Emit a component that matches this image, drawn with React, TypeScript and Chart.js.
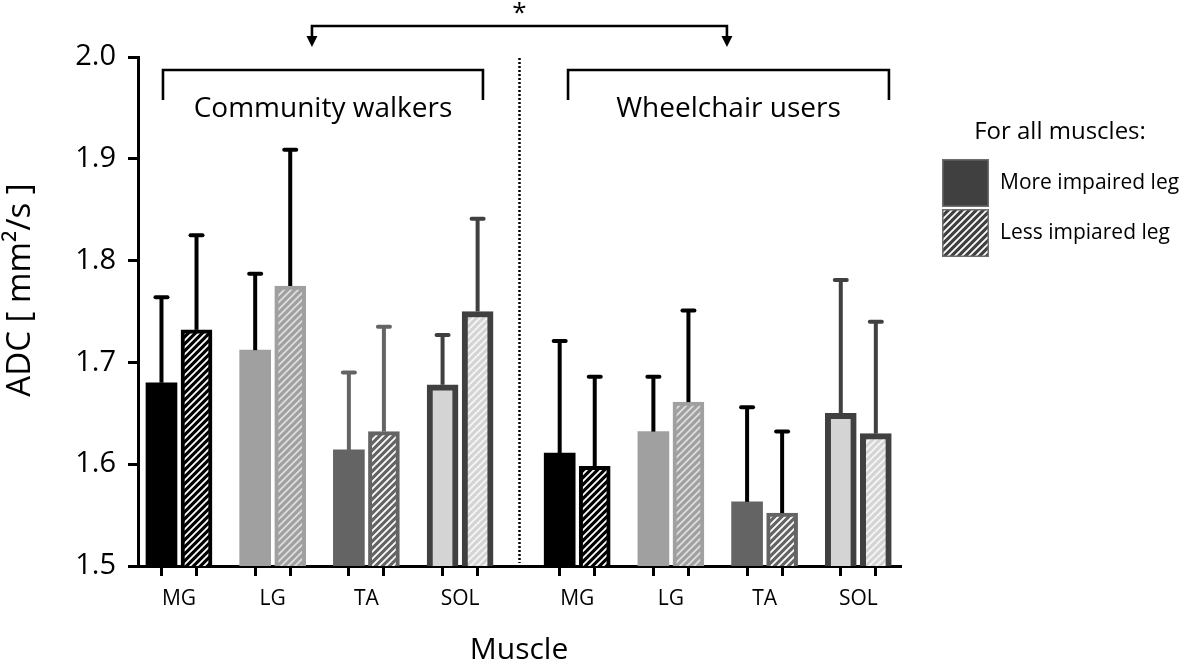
import React, { useEffect, useRef } from 'react';
import { Chart, registerables } from 'chart.js';

Chart.register(...registerables);

// ---------- data ----------
const muscles = ['MG', 'LG', 'TA', 'SOL'];
const groupNames = ['Community walkers', 'Wheelchair users'];
const seriesNames = ['More impaired leg', 'Less impiared leg'];
const legendTitle = 'For all muscles:';
const yTitle = 'ADC [ mm²/s ]';
const xTitle = 'Muscle';
const yTickValues = [1.5, 1.6, 1.7, 1.8, 1.9, 2.0];

// order: Community walkers MG LG TA SOL, Wheelchair users MG LG TA SOL
const moreMean = [1.68, 1.712, 1.614, 1.678, 1.611, 1.632, 1.563, 1.65];
const moreSD = [0.084, 0.075, 0.076, 0.049, 0.11, 0.054, 0.093, 0.131];
const lessMean = [1.732, 1.775, 1.632, 1.75, 1.598, 1.661, 1.552, 1.63];
const lessSD = [0.093, 0.134, 0.103, 0.091, 0.088, 0.09, 0.08, 0.11];

// ---------- layout / style constants ----------
const PANEL_GAP = 1.25;
const PAIR_OFFSET = 0.187;
const groupPos = [0, 1, 2, 3, 3 + PANEL_GAP, 4 + PANEL_GAP, 5 + PANEL_GAP, 6 + PANEL_GAP];
const morePos = groupPos.map((p) => p - PAIR_OFFSET);
const lessPos = groupPos.map((p) => p + PAIR_OFFSET);
const X_MIN = -0.4376;
const X_MAX = 7.695;
const dividerPos = (3 + 3 + PANEL_GAP) / 2;
const brackets = [
  { from: -0.171, to: 3.244 },
  { from: 4.152, to: 7.577 },
];
const arrowPos = [1.419, 5.848];

const muscleFill = ['#000000', '#a0a0a0', '#646464', '#d4d4d4'];
const muscleBorder = ['#000000', '#a0a0a0', '#646464', '#404040'];
const hatchLine = ['#ffffff', '#dedede', '#ffffff', '#f6f6f6'];
const moreBorderW = [0, 0, 0, 6];
const lessBorderW = [4, 4, 4, 6];
const errColor = ['#000', '#000', '#646464', '#404040', '#000', '#000', '#000', '#404040'];

const FONT = "'Open Sans', 'Noto Sans', sans-serif";
const W = '500';

function makeHatch(bg: string, line: string): CanvasPattern {
  const s = 7;
  const c = document.createElement('canvas');
  c.width = s;
  c.height = s;
  const g = c.getContext('2d')!;
  g.fillStyle = bg;
  g.fillRect(0, 0, s, s);
  g.strokeStyle = line;
  g.lineWidth = 1.8;
  g.beginPath();
  g.moveTo(-1, s + 1);
  g.lineTo(s + 1, -1);
  g.moveTo(-s / 2 - 1, s / 2 + 1);
  g.lineTo(s / 2 + 1, -s / 2 - 1);
  g.moveTo(s / 2 - 1, s * 1.5 + 1);
  g.lineTo(s * 1.5 + 1, s / 2 - 1);
  g.stroke();
  return g.createPattern(c, 'repeat')!;
}

const errorBarPlugin = {
  id: 'errorBars',
  afterDatasetsDraw(chart: any) {
    const ctx = chart.ctx as CanvasRenderingContext2D;
    const ys = chart.scales.y;
    const sds = [moreSD, lessSD];
    const means = [moreMean, lessMean];
    ctx.save();
    chart.data.datasets.forEach((_: any, di: number) => {
      const meta = chart.getDatasetMeta(di);
      meta.data.forEach((el: any, i: number) => {
        const yTop = ys.getPixelForValue(means[di][i] + sds[di][i]);
        ctx.strokeStyle = errColor[i];
        ctx.lineWidth = 4;
        ctx.lineCap = 'butt';
        ctx.beginPath();
        ctx.moveTo(el.x, el.y);
        ctx.lineTo(el.x, yTop);
        ctx.stroke();
        ctx.lineCap = 'round';
        ctx.beginPath();
        ctx.moveTo(el.x - 6, yTop);
        ctx.lineTo(el.x + 6, yTop);
        ctx.stroke();
      });
    });
    ctx.restore();
  },
};

const annotationPlugin = {
  id: 'annotations',
  afterDraw(chart: any) {
    const ctx = chart.ctx as CanvasRenderingContext2D;
    const xs = chart.scales.x;
    const { top, bottom } = chart.chartArea;
    ctx.save();
    ctx.fillStyle = '#000';
    ctx.strokeStyle = '#000';

    // dotted divider
    const xd = Math.round(xs.getPixelForValue(dividerPos)) + 0.5;
    ctx.lineWidth = 2.5;
    ctx.setLineDash([2, 2]);
    ctx.beginPath();
    ctx.moveTo(xd, top + 1);
    ctx.lineTo(xd, bottom - 3);
    ctx.stroke();
    ctx.setLineDash([]);

    // group brackets + labels
    ctx.lineWidth = 2.6;
    ctx.font = `${W} 28px ${FONT}`;
    ctx.textAlign = 'center';
    ctx.textBaseline = 'alphabetic';
    brackets.forEach((b, i) => {
      const x1 = xs.getPixelForValue(b.from);
      const x2 = xs.getPixelForValue(b.to);
      ctx.beginPath();
      ctx.moveTo(x1, top + 43);
      ctx.lineTo(x1, top + 13);
      ctx.lineTo(x2, top + 13);
      ctx.lineTo(x2, top + 43);
      ctx.stroke();
      ctx.fillText(groupNames[i], (x1 + x2) / 2, top + 60);
    });

    // significance arrow
    const a1 = xs.getPixelForValue(arrowPos[0]);
    const a2 = xs.getPixelForValue(arrowPos[1]);
    const yl = top - 31;
    ctx.lineWidth = 2.6;
    ctx.beginPath();
    ctx.moveTo(a1, yl + 12);
    ctx.lineTo(a1, yl);
    ctx.lineTo(a2, yl);
    ctx.lineTo(a2, yl + 12);
    ctx.stroke();
    [a1, a2].forEach((ax) => {
      ctx.beginPath();
      ctx.moveTo(ax - 5.5, yl + 10);
      ctx.lineTo(ax + 5.5, yl + 10);
      ctx.lineTo(ax, yl + 21);
      ctx.closePath();
      ctx.fill();
    });
    ctx.font = `${W} 26px ${FONT}`;
    ctx.fillText('*', (a1 + a2) / 2, yl - 5);

    // y axis title
    ctx.save();
    ctx.translate(21, 290);
    ctx.rotate(-Math.PI / 2);
    ctx.font = `${W} 33px ${FONT}`;
    ctx.textAlign = 'center';
    ctx.textBaseline = 'middle';
    ctx.fillText(yTitle, 0, 0);
    ctx.restore();

    // legend
    const lx = 942;
    const boxW = 47;
    const boxH = 48;
    const boxTops = [159, 209];
    ctx.font = `${W} 24px ${FONT}`;
    ctx.textAlign = 'center';
    ctx.textBaseline = 'alphabetic';
    ctx.fillText(legendTitle, 1060, 139);
    const fills: (string | CanvasPattern)[] = ['#404040', makeHatch('#404040', '#ffffff')];
    ctx.font = `${W} 21px ${FONT}`;
    ctx.textAlign = 'left';
    ctx.textBaseline = 'middle';
    boxTops.forEach((by, i) => {
      ctx.fillStyle = fills[i];
      ctx.fillRect(lx, by, boxW, boxH);
      ctx.strokeStyle = '#6e6e6e';
      ctx.lineWidth = 1.5;
      ctx.strokeRect(lx + 0.75, by + 0.75, boxW - 1.5, boxH - 1.5);
      ctx.fillStyle = '#000';
      ctx.fillText(seriesNames[i], 1000, by + boxH / 2);
    });
    ctx.restore();
  },
};

export default function App() {
  const ref = useRef<HTMLCanvasElement | null>(null);

  useEffect(() => {
    if (!ref.current) return;
    Chart.defaults.font.family = FONT;
    Chart.defaults.font.weight = W as any;
    Chart.defaults.color = '#000';

    const moreFill = groupPos.map((_, i) => muscleFill[i % 4]);
    const moreBorder = groupPos.map((_, i) => muscleBorder[i % 4]);
    const moreBW = groupPos.map((_, i) => moreBorderW[i % 4]);
    const lessFill = groupPos.map((_, i) => makeHatch(muscleFill[i % 4], hatchLine[i % 4]));
    const lessBorder = groupPos.map((_, i) => muscleBorder[i % 4]);
    const lessBW = groupPos.map((_, i) => lessBorderW[i % 4]);

    const chart = new Chart(ref.current, {
      type: 'bar',
      data: {
        datasets: [
          {
            label: seriesNames[0],
            data: moreMean.map((v, i) => ({ x: morePos[i], y: v })),
            backgroundColor: moreFill,
            borderColor: moreBorder,
            borderWidth: moreBW,
            borderSkipped: 'start',
            barThickness: 31,
            grouped: false,
          } as any,
          {
            label: seriesNames[1],
            data: lessMean.map((v, i) => ({ x: lessPos[i], y: v })),
            backgroundColor: lessFill,
            borderColor: lessBorder,
            borderWidth: lessBW,
            borderSkipped: 'start',
            barThickness: 31,
            grouped: false,
          } as any,
        ],
      },
      options: {
        responsive: false,
        animation: false,
        devicePixelRatio: 1,
        layout: { padding: { top: 57, right: 281, bottom: 0, left: 0 } },
        plugins: {
          legend: { display: false },
          tooltip: { enabled: false },
        },
        scales: {
          x: {
            type: 'linear',
            position: 'bottom',
            offset: false,
            min: X_MIN,
            max: X_MAX,
            afterBuildTicks: (s: any) => {
              s.ticks = [...morePos, ...lessPos].sort((a, b) => a - b).map((v) => ({ value: v }));
            },
            ticks: { display: false, autoSkip: false },
            grid: { offset: false, drawOnChartArea: false, drawTicks: true, tickLength: 10, lineWidth: 3, color: '#000' },
            border: { display: true, width: 3, color: '#000' },
            afterFit: (s: any) => {
              s.height = 10;
            },
          },
          x2: {
            type: 'linear',
            position: 'bottom',
            offset: false,
            min: X_MIN,
            max: X_MAX,
            afterBuildTicks: (s: any) => {
              s.ticks = groupPos.map((v) => ({ value: v }));
            },
            ticks: {
              autoSkip: false,
              maxRotation: 0,
              padding: 10,
              font: { size: 21, weight: W },
              color: '#000',
              callback: (_v: any, i: number) => muscles[i % 4],
            },
            grid: { display: false, drawTicks: false, offset: false },
            border: { display: false },
            title: {
              display: true,
              text: xTitle,
              font: { size: 30, lineHeight: 0.8, weight: W },
              color: '#000',
              padding: 0,
            },
            afterFit: (s: any) => {
              s.height = 86;
            },
          },
          y: {
            type: 'linear',
            min: 1.5,
            max: 2.0,
            afterBuildTicks: (s: any) => {
              s.ticks = yTickValues.map((v) => ({ value: v }));
            },
            ticks: {
              font: { size: 29, weight: W },
              color: '#000',
              padding: 12,
              callback: (v: any) => Number(v).toFixed(1),
            },
            grid: { drawOnChartArea: false, drawTicks: true, tickLength: 10, lineWidth: 3, color: '#000' },
            border: { display: true, width: 3, color: '#000' },
            afterFit: (s: any) => {
              s.width = 138;
            },
          },
        },
      } as any,
      plugins: [errorBarPlugin, annotationPlugin],
    });
    return () => chart.destroy();
  }, []);

  return (
    <div style={{ position: 'fixed', left: 0, top: 0, width: 1181, height: 662, background: '#fff' }}>
      <canvas ref={ref} width={1181} height={662} style={{ display: 'block' }} />
    </div>
  );
}
